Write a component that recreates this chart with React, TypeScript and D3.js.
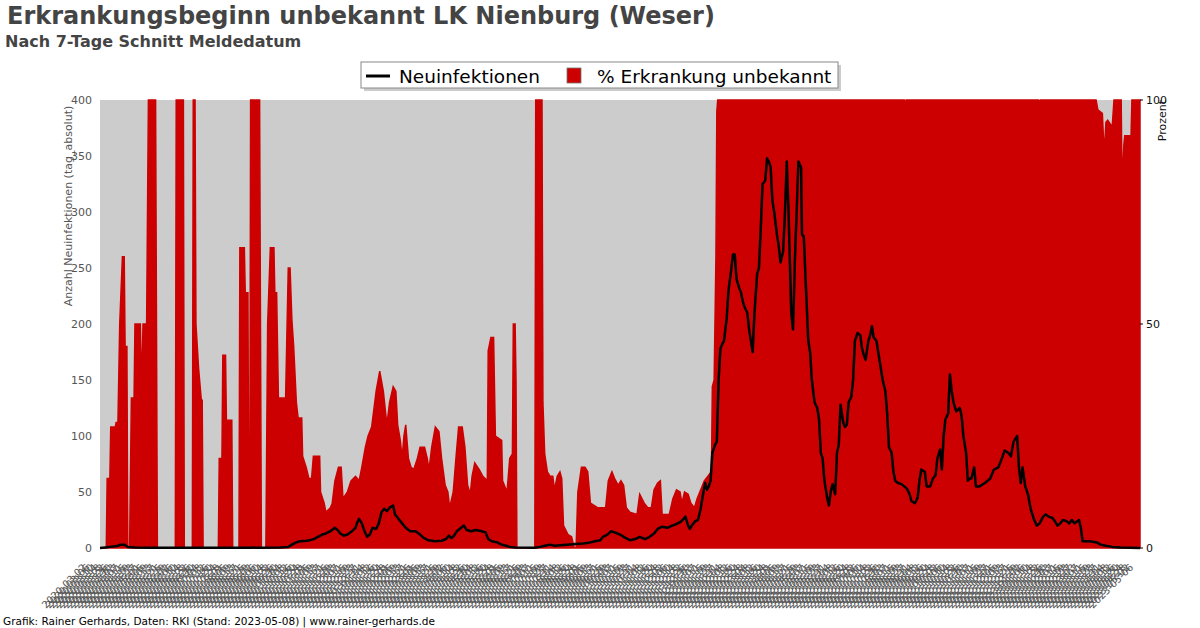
import React from "react";
import * as d3 from "d3";

// ---------- data ----------
const START_DATE = "2020-03-02";
const TOTAL_DAYS = 1160;
const LABEL_STEP_DAYS = 4;

const leftTicks = [0, 50, 100, 150, 200, 250, 300, 350, 400];
const rightTicks = [0, 50, 100];

// [day offset from START_DATE, % Erkrankung unbekannt]
const unbekanntPct: [number, number][] = [
  [0,0],[7,0],[8,15.5],[11,15.5],[12,27],[17,27],[18,28],[20,28],[22,50],[25,65],[27,65],[28,45],[30,45],[31,0],[33,0],[35,33.5],[38,33.5],[39,50],[45,50],[46,40],[47,40],[48,50],[52,50],[54,100],[62,100],[64,0],[84,0],[85,100],[93,100],[94,0],[103,0],[104,100],[106,100],[107,50],[110,40],[113,33],[114,33],[115,0],[132,0],[133,20],[136,20],[137,43],[140,43],[141,28.5],[147,28.5],[148,0],[155,0],[156,67],[161,67],[162,57],[165,57],[166,0],[167,0],[168,100],[178,100],[180,0],[185,0],[187,50],[190,67],[194,67],[195,57],[197,57],[199,33.5],[207,33.5],[210,62.5],[212,62.5],[214,51],[216,45],[219,32.5],[221,29],[225,29],[226,20.5],[230,18],[233,15.5],[236,15.5],[238,20.5],[245,20.5],[246,12.5],[250,10],[252,8],[257,9],[259,10],[262,15],[266,18],[269,18],[271,11],[276,12.5],[280,15],[285,16],[289,15],[292,18],[296,22.5],[299,25],[303,27],[308,35],[312,39.5],[316,35],[320,27.5],[323,32.5],[327,36],[330,35],[332,27.5],[335,24],[337,20],[339,25],[341,27.5],[344,20],[347,18],[350,17.5],[354,20],[357,22.5],[362,22.5],[365,20],[367,17.5],[370,22.5],[374,27],[378,26],[381,20],[385,14],[388,12.5],[390,9],[394,12.5],[397,20],[400,27],[404,27],[407,22.5],[410,14],[413,12],[415,16],[418,19],[423,17.5],[427,16],[432,15],[433,44],[436,47],[439,47],[441,25],[448,24],[449,15],[454,12.5],[457,20],[460,21],[461,50],[463,50],[464,37.5],[465,0],[485,0],[486,100],[493,100],[494,32.5],[496,21],[499,17],[502,16],[505,16],[507,13],[510,16],[513,17],[515,15.5],[517,5],[522,3],[526,2.5],[529,0],[531,0],[533,12.5],[537,18],[541,18],[544,17],[547,10],[551,9.5],[555,9],[564,9],[567,15],[571,17],[574,15.5],[578,14],[581,15],[584,14],[587,9],[591,8],[599,7.5],[602,12],[607,10],[611,9],[615,9],[618,13],[622,14.5],[625,15],[627,7.5],[635,7.5],[639,11],[643,13],[647,12.5],[649,10],[652,12.5],[656,12],[659,10],[663,9],[666,11],[669,12.5],[674,15],[678,16],[682,17],[683,36],[685,37.5],[687,65],[688,97.5],[689,100],[897,100],[898,98.8],[899,100],[1047,100],[1048,99.3],[1049,100],[1111,100],[1113,97.8],[1118,97],[1120,88],[1122,95],[1124,95.5],[1129,94],[1131,100],[1139,100],[1140,80.5],[1142,90],[1143,92],[1150,92],[1151,100],[1160,100]
];

// [day offset from START_DATE, Neuinfektionen (7-Tage Schnitt)]
const neuinfektionen: [number, number][] = [
  [0,0],[6,0.5],[11,1],[17,1.5],[20,2],[23,3],[27,3],[29,2],[31,1],[39,0.5],[56,0.3],[112,0.2],[167,0.3],[201,0.5],[210,1],[214,3],[219,5],[223,6],[230,6.5],[234,7],[239,8],[243,10],[248,12],[252,13],[257,15],[262,18],[265,16],[268,13],[272,11],[276,12],[281,15],[285,18],[287,23],[289,26],[292,22],[295,15],[298,10],[301,12],[304,18],[308,17],[311,22],[314,32],[317,35],[320,33],[323,36],[327,38],[329,30],[332,27],[337,22],[341,18],[346,15],[352,15],[357,12],[361,9],[366,7],[374,6],[381,6.5],[386,8],[389,11],[392,9],[395,11],[398,15],[401,17],[406,20],[409,16],[414,15],[419,16],[426,15],[430,14],[433,8],[437,6],[443,5],[448,3],[453,2],[457,1],[463,0.5],[485,0.3],[491,1],[496,2],[502,3],[507,2],[513,2.5],[521,3],[530,3.5],[539,4],[547,5],[552,6],[558,7],[561,10],[566,12],[570,15],[574,14],[580,12],[586,9],[591,7],[597,8],[602,10],[608,8],[613,10],[618,13],[622,17],[627,19],[633,18],[638,20],[642,21],[647,23],[651,26],[653,28],[656,20],[658,17],[660,20],[664,24],[667,25],[670,35],[672,45],[675,58],[677,52],[679,55],[681,60],[683,85],[686,92],[688,95],[690,150],[692,178],[694,182],[696,185],[699,205],[701,230],[704,248],[706,262],[708,262],[710,240],[713,232],[715,228],[717,220],[719,215],[722,210],[724,195],[726,185],[728,175],[730,210],[733,245],[735,250],[737,285],[739,325],[742,328],[744,348],[746,345],[748,340],[750,310],[752,300],[755,280],[757,270],[759,255],[762,265],[764,300],[766,345],[768,300],[771,210],[773,195],[775,255],[777,300],[779,345],[782,340],[783,280],[785,278],[787,240],[790,185],[792,175],[794,150],[797,130],[800,125],[802,115],[804,85],[806,80],[808,60],[811,45],[813,38],[815,50],[817,57],[820,48],[822,85],[824,92],[826,128],[829,112],[831,108],[833,110],[835,130],[838,135],[840,150],[842,185],[845,192],[848,190],[850,178],[852,172],[854,168],[857,185],[859,190],[861,198],[863,188],[866,185],[868,175],[870,165],[873,150],[876,140],[878,120],[880,90],[883,85],[885,68],[887,60],[890,58],[894,57],[897,55],[900,53],[903,48],[905,42],[909,40],[912,45],[914,60],[916,70],[920,68],[922,55],[926,55],[929,62],[932,65],[934,80],[937,88],[939,70],[941,100],[943,115],[946,120],[948,155],[950,140],[952,130],[955,122],[959,125],[961,118],[963,100],[966,85],[968,60],[970,62],[972,62],[975,72],[977,55],[981,55],[987,58],[993,62],[997,70],[1002,72],[1006,80],[1009,87],[1013,85],[1016,82],[1019,95],[1023,100],[1025,72],[1027,58],[1029,72],[1032,55],[1035,48],[1038,35],[1042,25],[1045,20],[1048,22],[1052,28],[1055,30],[1058,28],[1062,27],[1065,24],[1068,20],[1071,22],[1074,25],[1078,24],[1081,22],[1084,25],[1087,22],[1092,25],[1094,18],[1096,6],[1104,6],[1112,5],[1116,3],[1122,2],[1129,1],[1138,0.5],[1160,0]
];

const TITLE = "Erkrankungsbeginn unbekannt LK Nienburg (Weser)";
const SUBTITLE = "Nach 7-Tage Schnitt Meldedatum";
const FOOTER = "Grafik: Rainer Gerhards, Daten: RKI (Stand: 2023-05-08) | www.rainer-gerhards.de";
const LEGEND_LINE = "Neuinfektionen";
const LEGEND_AREA = "% Erkrankung unbekannt";
const Y_LEFT_LABEL = "Anzahl Neuinfektionen (tag_absolut)";
const Y_RIGHT_LABEL = "Prozent";

// ---------- layout ----------
const W = 1200, H = 628;
const X0 = 100, X1 = 1140, YB = 548, YT = 100;
const RED = "#cc0000";
const FONT = "DejaVu Sans, sans-serif";

export default function App() {
  const x = d3.scaleLinear().domain([0, TOTAL_DAYS]).range([X0, X1]);
  const labelX = d3.scaleLinear().domain([0, TOTAL_DAYS]).range([87, 1134]);
  const yL = d3.scaleLinear().domain([0, 400]).range([YB, YT]);
  const yR = d3.scaleLinear().domain([0, 100]).range([YB, YT]);

  const area = d3.area<[number, number]>()
    .x(d => x(d[0]))
    .y0(yR(0))
    .y1(d => yR(d[1]));
  const line = d3.line<[number, number]>()
    .x(d => x(d[0]))
    .y(d => yL(d[1]));

  const start = d3.timeParse("%Y-%m-%d")(START_DATE) as Date;
  const fmt = d3.timeFormat("%Y-%m-%d");
  const labelDays = d3.range(0, TOTAL_DAYS + 1, LABEL_STEP_DAYS);

  return (
    <svg width={W} height={H} style={{ position: "absolute", left: 0, top: 0, background: "#fff" }}
      fontFamily={FONT}>
      <text x={7} y={24} fontSize={24} fontWeight="bold" fill="#444">{TITLE}</text>
      <text x={5} y={47} fontSize={16} fontWeight="bold" fill="#444">{SUBTITLE}</text>

      {/* plot background */}
      <rect x={X0} y={YT} width={X1 - X0} height={YB - YT} fill="#cccccc" />

      {/* red area */}
      <path d={area(unbekanntPct) || ""} fill={RED} stroke={RED} strokeWidth={1.5} strokeLinejoin="miter" />

      {/* black line */}
      <path d={line(neuinfektionen) || ""} fill="none" stroke="#000" strokeWidth={2.5} strokeLinejoin="round" />

      {/* left axis */}
      {leftTicks.map(t => (
        <text key={"l" + t} x={92} y={yL(t)} dy="0.35em" textAnchor="end" fontSize={11} fill="#555">{t}</text>
      ))}
      <text transform={`translate(72,${206}) rotate(-90)`} textAnchor="middle" fontSize={11} fill="#555">{Y_LEFT_LABEL}</text>

      {/* right axis */}
      {rightTicks.map(t => (
        <g key={"r" + t}>
          <line x1={X1} x2={X1 + 3} y1={yR(t)} y2={yR(t)} stroke="#000" />
          <text x={X1 + 6} y={yR(t)} dy="0.35em" fontSize={11} fill="#111">{t}</text>
        </g>
      ))}
      <text transform={`translate(1166,100) rotate(-90)`} textAnchor="end" fontSize={11} fill="#111">{Y_RIGHT_LABEL}</text>

      {/* x labels */}
      <g fontSize={10} fill="#555">
        {labelDays.map(dd => (
          <text key={dd} textAnchor="end" transform={`translate(${labelX(dd)},568) rotate(-45)`}>
            {fmt(d3.timeDay.offset(start, dd))}
          </text>
        ))}
      </g>

      {/* legend */}
      <rect x={364} y={65} width={477} height={26} fill="#999" opacity={0.5} />
      <rect x={361} y={62} width={477} height={26} fill="#fff" stroke="#888" strokeWidth={1} />
      <line x1={366} x2={390} y1={76} y2={76} stroke="#000" strokeWidth={3} />
      <text x={399} y={83} fontSize={18.5} fill="#000">{LEGEND_LINE}</text>
      <rect x={567} y={68} width={14} height={15} fill={RED} stroke="#777" strokeWidth={0.8} />
      <text x={597} y={83} fontSize={18.5} fill="#000">{LEGEND_AREA}</text>

      <text x={3} y={625} fontSize={10.5} fill="#000">{FOOTER}</text>
    </svg>
  );
}
